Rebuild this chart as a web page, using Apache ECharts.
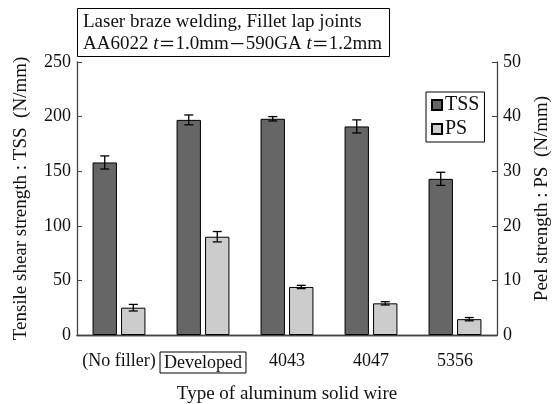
<!DOCTYPE html>
<html>
<head>
<meta charset="utf-8">
<script src="https://cdn.jsdelivr.net/npm/echarts@6/dist/echarts.min.js"></script>
<style>
  html, body { margin: 0; padding: 0; background: #fff; }
  #chart { width: 559px; height: 404px; }
</style>
</head>
<body>
<div id="chart"></div>
<script>
// 数据
const categories = ['(No filler)', 'Developed', '4043', '4047', '5356'];
const tss = [158, 197, 198, 191, 143];
const tssErr = [6, 4.5, 2, 6, 6];
const ps = [5, 18, 8.8, 5.8, 2.9];
const psErr = [0.6, 0.95, 0.3, 0.3, 0.3];
const leftTicks = [0, 50, 100, 150, 200, 250];
const rightTicks = [0, 10, 20, 30, 40, 50];

const font = 'Liberation Serif';
const axisColor = '#444';
const barWidthRatio = 0.29;
const barGapRatio = 0.17;
const shift = (barWidthRatio + barWidthRatio * barGapRatio) / 2;

function errorSeries(values, errs, yIndex, side) {
  return {
    type: 'custom',
    yAxisIndex: yIndex,
    z: 10,
    silent: true,
    data: values.map((v, i) => [i, v, errs[i]]),
    renderItem: (params, api) => {
      const i = api.value(0);
      const v = api.value(1);
      const e = api.value(2);
      const band = api.size([1, 0])[0];
      const x = api.coord([i, v])[0] + side * shift * band;
      const y1 = api.coord([i, v + e])[1];
      const y2 = api.coord([i, v - e])[1];
      const cap = 4.5;
      const style = { stroke: '#000', lineWidth: 1.3 };
      return {
        type: 'group',
        children: [
          { type: 'line', shape: { x1: x, y1: y1, x2: x, y2: y2 }, style },
          { type: 'line', shape: { x1: x - cap, y1: y1, x2: x + cap, y2: y1 }, style },
          { type: 'line', shape: { x1: x - cap, y1: y2, x2: x + cap, y2: y2 }, style },
        ],
      };
    },
  };
}

const chart = echarts.init(document.getElementById('chart'));

const option = {
  animation: false,
  textStyle: { fontFamily: font, color: '#111' },
  title: {
    text: 'Laser braze welding, Fillet lap joints\nAA6022 {i|t}{s|＝}1.0mm{s|－}590GA {i|t}{s|＝}1.2mm',
    left: 77,
    top: 8,
    padding: [3, 8, 2, 6],
    borderColor: '#000',
    borderWidth: 1,
    textStyle: {
      fontFamily: font,
      fontSize: 19,
      fontWeight: 'normal',
      color: '#111',
      lineHeight: 22,
      rich: {
        i: { fontStyle: 'italic', fontFamily: font, fontSize: 19, color: '#111', lineHeight: 22 },
        s: { fontFamily: 'Noto Sans CJK SC', fontSize: 17, color: '#111', lineHeight: 22 },
      },
    },
  },
  legend: {
    data: ['TSS', 'PS'],
    orient: 'vertical',
    left: 426,
    top: 92,
    padding: [3, 5, 3, 5],
    itemWidth: 10,
    itemHeight: 10,
    itemGap: 4,
    icon: 'rect',
    borderColor: '#000',
    borderWidth: 1,
    textStyle: { fontFamily: font, fontSize: 20, color: '#111', padding: [0, 0, 0, -2] },
  },
  grid: { left: 77, right: 62, top: 62, bottom: 69, outerBoundsMode: 'none', containLabel: false },
  xAxis: [
    {
      type: 'category',
      data: categories,
      position: 'bottom',
      axisLine: { lineStyle: { color: axisColor, width: 1.3 } },
      axisTick: { inside: true, length: 5, lineStyle: { color: axisColor } },
      axisLabel: {
        interval: 0,
        fontFamily: font,
        fontSize: 18,
        color: '#111',
        margin: 17,
        formatter: (v) => (v === 'Developed' ? '{box|' + v + '}' : v),
        rich: {
          box: {
            fontFamily: font,
            fontSize: 18,
            color: '#111',
            borderColor: '#000',
            borderWidth: 1,
            padding: [2, 4, 1, 4],
          },
        },
      },
      name: 'Type of aluminum solid wire',
      nameLocation: 'middle',
      nameGap: 50,
      nameTextStyle: { fontFamily: font, fontSize: 19, color: '#111' },
    },
    {
      type: 'category',
      data: categories,
      position: 'top',
      axisLine: { lineStyle: { color: axisColor, width: 1.3 } },
      axisTick: { inside: true, length: 5, lineStyle: { color: axisColor } },
      axisLabel: { show: false },
    },
  ],
  yAxis: [
    {
      type: 'value',
      min: leftTicks[0],
      max: leftTicks[leftTicks.length - 1],
      interval: 50,
      position: 'left',
      splitLine: { show: false },
      axisLine: { show: true, lineStyle: { color: axisColor, width: 1.3 } },
      axisTick: { show: true, inside: true, length: 5, lineStyle: { color: axisColor } },
      axisLabel: { fontFamily: font, fontSize: 18, color: '#111', margin: 6 },
      name: 'Tensile shear strength : TSS  (N/mm)',
      nameLocation: 'middle',
      nameGap: 46,
      nameTextStyle: { fontFamily: font, fontSize: 19, color: '#111' },
    },
    {
      type: 'value',
      min: rightTicks[0],
      max: rightTicks[rightTicks.length - 1],
      interval: 10,
      position: 'right',
      splitLine: { show: false },
      axisLine: { show: true, lineStyle: { color: axisColor, width: 1.3 } },
      axisTick: { show: true, inside: true, length: 5, lineStyle: { color: axisColor } },
      axisLabel: { fontFamily: font, fontSize: 18, color: '#111', margin: 6 },
      name: 'Peel strength : PS  (N/mm)',
      nameLocation: 'middle',
      nameGap: 36,
      nameRotate: 90,
      nameTextStyle: { fontFamily: font, fontSize: 19, color: '#111' },
    },
  ],
  series: [
    {
      name: 'TSS',
      type: 'bar',
      yAxisIndex: 0,
      data: tss,
      barWidth: barWidthRatio * 100 + '%',
      barGap: barGapRatio * 100 + '%',
      itemStyle: { color: '#666666', borderColor: '#000', borderWidth: 1 },
    },
    {
      name: 'PS',
      type: 'bar',
      yAxisIndex: 1,
      data: ps,
      barWidth: barWidthRatio * 100 + '%',
      barGap: barGapRatio * 100 + '%',
      itemStyle: { color: '#cccccc', borderColor: '#000', borderWidth: 1 },
    },
    errorSeries(tss, tssErr, 0, -1),
    errorSeries(ps, psErr, 1, 1),
  ],
};

chart.setOption(option);
</script>
</body>
</html>
